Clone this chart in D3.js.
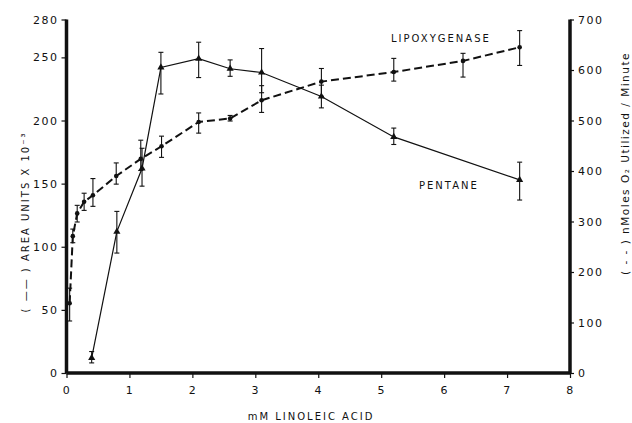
<!DOCTYPE html>
<meta charset="utf-8">
<head>
<script src="https://d3js.org/d3.v7.min.js"></script>
<style>
    body { margin: 0; background: #fff; }
    text { font-family: "DejaVu Sans", sans-serif; fill: #111; }
    .tick text { font-size: 11px; letter-spacing: 1.5px; }
    .lbl { font-size: 10px; letter-spacing: 2px; }
</style>
</head>
<body>
<svg id="chart" width="632" height="423"></svg>
<script>
    // mM linoleic acid vs pentane (left axis) and lipoxygenase (right axis)
    var pentX  = [0.4, 0.8, 1.2, 1.5, 2.1, 2.6, 3.1, 4.05, 5.2, 7.2];
    var pentY  = [12, 112, 162, 242, 249, 241, 238, 219, 187, 153];
    var pentLo = [8, 95, 148, 221, 234, 235, 222, 210, 181, 137];
    var pentHi = [17, 128, 178, 254, 262, 248, 257, 228, 194, 167];

    var lipoX  = [0.05, 0.1, 0.17, 0.28, 0.42, 0.79, 1.18, 1.51, 2.1, 2.6, 3.1, 4.05, 5.2, 6.3, 7.2];
    var lipoY  = [138, 271, 316, 339, 352, 390, 424, 449, 497, 504, 540, 577, 596, 618, 645];
    var lipoLo = [103, 258, 299, 322, 330, 374, 401, 427, 475, 499, 516, 548, 578, 586, 609];
    var lipoHi = [168, 285, 332, 356, 385, 416, 461, 469, 515, 510, 569, 603, 623, 633, 678];

    var xTicks = [0, 1, 2, 3, 4, 5, 6, 7, 8];
    var yLeftTicks = [0, 50, 100, 150, 200, 250, 280];
    var yRightTicks = [0, 100, 200, 300, 400, 500, 600, 700];

    var svg = d3.select("#chart");

    var x = d3.scaleLinear().domain([0, 8]).range([66.5, 570]);
    var yL = d3.scaleLinear().domain([0, 280]).range([373, 19.5]);
    var yR = d3.scaleLinear().domain([0, 700]).range([373, 19.5]);

    // axes
    var gx = svg.append("g").attr("transform", "translate(0,373)")
      .call(d3.axisBottom(x).tickValues(xTicks).tickSize(5).tickPadding(8).tickFormat(d3.format("d")));
    var gl = svg.append("g").attr("transform", "translate(66.5,0)")
      .call(d3.axisLeft(yL).tickValues(yLeftTicks).tickSize(5).tickPadding(3));
    var gr = svg.append("g").attr("transform", "translate(570,0)")
      .call(d3.axisRight(yR).tickValues(yRightTicks).tickSize(4).tickPadding(4));

    [gx, gl, gr].forEach(function(g) {
      g.select(".domain").attr("stroke", "#111").attr("stroke-width", 3.5);
      g.selectAll(".tick line").attr("stroke", "#111").attr("stroke-width", 1.2);
      g.selectAll(".tick text").attr("fill", "#111");
    });
    gx.select(".domain").attr("d", "M66.5,0H570");
    gl.select(".domain").attr("d", "M0,373V19.5");
    gr.select(".domain").attr("d", "M0,373V19.5");

    var lipo = lipoX.map(function(d, i) { return { x: d, y: lipoY[i], lo: lipoLo[i], hi: lipoHi[i] }; });
    var pent = pentX.map(function(d, i) { return { x: d, y: pentY[i], lo: pentLo[i], hi: pentHi[i] }; });

    // lipoxygenase (dashed, right axis)
    svg.append("path").datum(lipo)
      .attr("fill", "none").attr("stroke", "#111").attr("stroke-width", 2)
      .attr("stroke-dasharray", "8,4")
      .attr("d", d3.line().x(function(d) { return x(d.x); }).y(function(d) { return yR(d.y); }));

    // pentane (solid, left axis)
    svg.append("path").datum(pent)
      .attr("fill", "none").attr("stroke", "#111").attr("stroke-width", 1.2)
      .attr("d", d3.line().x(function(d) { return x(d.x); }).y(function(d) { return yL(d.y); }));

    function errorBars(data, y) {
      var g = svg.append("g").attr("stroke", "#111").attr("stroke-width", 1.1);
      var e = g.selectAll("g").data(data).enter().append("g");
      e.append("line").attr("x1", function(d) { return x(d.x); }).attr("x2", function(d) { return x(d.x); })
        .attr("y1", function(d) { return y(d.lo); }).attr("y2", function(d) { return y(d.hi); });
      e.append("line").attr("x1", function(d) { return x(d.x) - 2.5; }).attr("x2", function(d) { return x(d.x) + 2.5; })
        .attr("y1", function(d) { return y(d.lo); }).attr("y2", function(d) { return y(d.lo); });
      e.append("line").attr("x1", function(d) { return x(d.x) - 2.5; }).attr("x2", function(d) { return x(d.x) + 2.5; })
        .attr("y1", function(d) { return y(d.hi); }).attr("y2", function(d) { return y(d.hi); });
    }
    errorBars(lipo, yR);
    errorBars(pent, yL);

    svg.append("g").selectAll("circle").data(lipo).enter().append("circle")
      .attr("cx", function(d) { return x(d.x); }).attr("cy", function(d) { return yR(d.y); })
      .attr("r", 2.3).attr("fill", "#111");

    svg.append("g").selectAll("path").data(pent).enter().append("path")
      .attr("transform", function(d) { return "translate(" + x(d.x) + "," + yL(d.y) + ")"; })
      .attr("d", d3.symbol().type(d3.symbolTriangle).size(22))
      .attr("fill", "#111");

    // labels
    svg.append("text").attr("class", "lbl").attr("x", 391).attr("y", 42).text("LIPOXYGENASE");
    svg.append("text").attr("class", "lbl").attr("x", 419).attr("y", 189).text("PENTANE");
    svg.append("text").attr("class", "lbl").attr("x", 311).attr("y", 420)
      .attr("text-anchor", "middle").text("mM  LINOLEIC  ACID");

    svg.append("text").attr("class", "lbl")
      .attr("transform", "translate(29,222) rotate(-90)")
      .attr("text-anchor", "middle").text("( —— ) AREA  UNITS  X  10⁻³");

    svg.append("text")
      .style("font-size", "10.5px").style("letter-spacing", "1.5px")
      .attr("transform", "translate(629,52) rotate(-90)")
      .attr("text-anchor", "end").text("( - - ) nMoles O₂ Utilized / Minute");
</script>
</body>
